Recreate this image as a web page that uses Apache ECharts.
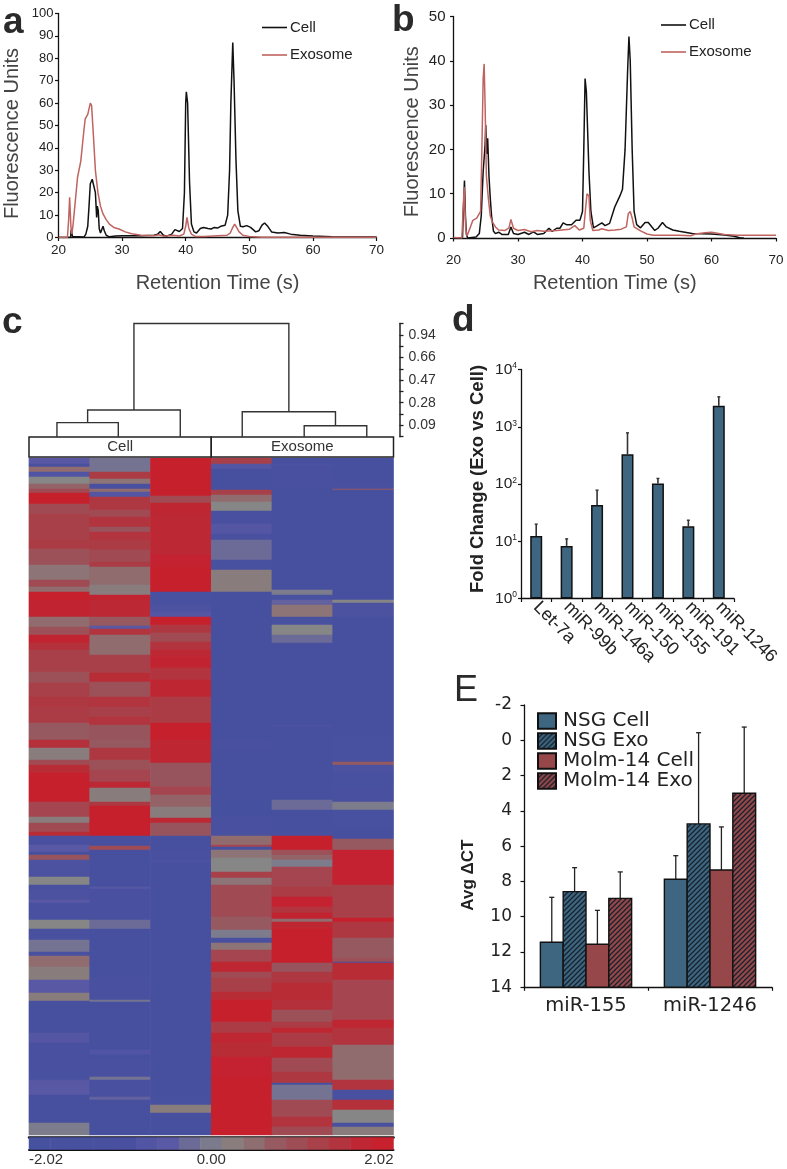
<!DOCTYPE html>
<html>
<head>
<meta charset="utf-8">
<style>html,body{margin:0;padding:0;background:#fff}#c{width:787px;height:1169px}</style>
<script src="https://cdn.jsdelivr.net/npm/echarts@6/dist/echarts.min.js"></script>
</head>
<body>
<div id="c"></div>
<script>
// ---------- Panel a ----------
const aCell = [[20,0],[21.9,0],[22,3.5],[22.2,0.5],[22.4,0],[24,0.2],[24.3,1.5],[24.6,5],[24.8,14],[25,24],[25.3,26],[25.6,26],[25.8,20],[26,9],[26.1,14],[26.25,12],[26.4,4],[26.6,2],[26.9,2],[27,5],[27.2,3],[27.5,1],[28,0.3],[29,0.7],[30,0.8],[31,0.8],[33,0.8],[35,1],[35.6,1.5],[36,2.7],[36.5,1],[37,0.6],[37.8,1.5],[38.3,3.5],[39,2.7],[39.5,4],[39.8,20],[40,60],[40.1,65],[40.3,60],[40.6,25],[40.9,6],[41.3,2.5],[41.7,2],[42.3,4],[42.8,4.5],[43.5,4],[44,3.8],[44.5,4.5],[45,4.2],[45.5,5],[46.2,5.5],[46.6,10],[46.9,30],[47.1,60],[47.4,87],[47.6,70],[47.9,35],[48.2,12],[48.6,5],[49,4.8],[49.6,5.3],[50.2,4.5],[51,2.5],[51.5,3],[52,5.5],[52.4,6.5],[52.9,5],[53.5,2.5],[54.5,2],[55.5,2.2],[56.5,1.5],[58,1],[60,0.7],[63,0.3],[70,0.2]];
const aExo = [[20,0],[21.4,0],[21.6,8],[21.75,18],[21.95,5],[22.1,1.5],[22.3,6],[22.6,15],[23,27],[23.5,34],[24,48],[24.2,53],[24.6,55],[25,60],[25.2,59],[25.5,45],[25.8,30],[26.2,20],[26.6,14],[27,10.5],[27.5,8],[28,6],[28.7,4.5],[29.5,3.8],[30.5,2.5],[31.5,1.7],[33,1],[35,0.8],[35.8,1.2],[36.5,0.6],[38,1],[39,0.7],[39.7,1.5],[40,5],[40.2,9],[40.5,4],[40.9,1.5],[41.5,0.5],[43,0.5],[45,0.8],[46.5,1],[47,2],[47.4,4.5],[47.7,6],[48,4.5],[48.4,2.5],[49,1],[50,0.5],[52,0.1],[70,0.1]];
// ---------- Panel b ----------
const bCell = [[20,0],[21.4,0.1],[21.5,5],[21.7,13],[21.85,5],[22,0.8],[22.2,0],[23.5,0.2],[24,1],[24.3,5],[24.6,15],[24.9,21],[25,25.5],[25.15,19],[25.3,22.5],[25.5,14],[25.7,9],[25.9,5],[26.2,1.5],[26.5,1],[27,1.3],[27.5,0.8],[28.5,0.8],[28.9,2.5],[29.3,1],[30,0.8],[31,1.3],[31.7,0.8],[32.4,1.4],[33,0.8],[34,1],[34.8,2.2],[35.3,1.5],[36,2.2],[36.5,2.2],[37,3.4],[37.5,3],[38.3,3],[39,4],[39.6,4],[40,6],[40.2,20],[40.4,36],[40.6,33],[41,15],[41.3,6],[41.7,2.3],[42.3,2.8],[43,3.4],[43.5,2.8],[44.2,3.3],[45,7],[45.8,9.5],[46.2,11],[46.6,20],[47,38],[47.2,45.5],[47.4,40],[47.7,20],[48,6],[48.4,3],[49,2.3],[49.7,3.5],[50.2,3.5],[51.2,1.7],[51.7,2.2],[52.4,3.5],[53,2.5],[54,1.8],[55,1.5],[57,1],[60,0.9],[62,0.7],[63.5,0.4],[64.5,0],[65,0]];
const bExo = [[20,0.1],[21.3,0],[21.45,5],[21.65,11.5],[21.9,2],[22.1,0.5],[22.5,2],[23,4],[23.6,4.5],[24.2,6],[24.4,20],[24.6,36],[24.75,39.3],[24.9,30],[25.1,14],[25.4,9],[25.7,5],[26,3.7],[26.5,2.5],[27,1.8],[28,1.7],[28.6,2.3],[28.9,4.2],[29.3,2.2],[30,1.7],[31,1.9],[32,1.4],[33,1.7],[34,1.5],[36,1.7],[38,2],[38.8,2.8],[39.5,1.8],[40.2,2.2],[40.5,7],[40.7,10],[41,9.5],[41.2,4],[41.6,1.7],[42.5,1.8],[43,2.1],[44,1.7],[45,1.8],[46,2],[46.8,2.5],[47.1,5.5],[47.4,6],[47.7,4.5],[48,2.5],[49,1.6],[50,0.9],[51,0.6],[55,0.6],[56.8,0.5],[57.5,0.9],[59,1.2],[60,1.3],[62,0.8],[64,0.6],[70,0.6]];

// ---------- Panel c: dendrogram ----------
const dendroTickLabels = {1:'0.09',3:'0.28',5:'0.47',7:'0.66',9:'0.94'};
const leaves = [-0.04,0.97,1.99,3.01,4.03,5.06];
const merges = [ // [left child, right child, height]  children: leaf index or 'n' + merge index
  [0,1,1.24],[4,5,0.97],['n0',2,2.36],[3,'n1',2.2],['n2','n3',10]
];
const columnGroups = [['Cell',0,3],['Exosome',3,6]];

// ---------- Panel c: heat stripes, three blocks per sample: [row end within block, value] ----------
const blockStart = [-473, 426, 1266];
const sampleA = [
 [[490,-.5],[500,-1],[515,.3],[530,-.8],[552,0],[565,.4],[578,.8],[610,2],[640,.8],[720,1],[745,1.1],[795,.7],[840,.2],[860,.8],[875,.3],[899,2]],
 [[50,1.8],[80,.3],[105,.7],[130,1.8],[150,1.4],[215,1],[250,.7],[290,1],[320,1.2],[370,1.1],[420,.5],[445,1.4],[480,.1],[495,.8],[520,1.5],[605,2],[650,.9],[670,.1],[695,.8],[708,1.5],[735,-1.4],[755,-.5],[765,-1.5],[780,.6],[830,-.9],[840,0]],
 [[15,0],[30,-1.3],[60,-.9],[70,-.5],[120,-1.3],[148,0],[180,-1.4],[215,-.2],[228,-1],[260,.3],[300,.1],[340,-.5],[362,.1],[460,-1.5],[490,-.7],[570,-1.3],[600,-1.1],[615,-.6],[645,-.5],[730,-1.5],[765,-.1]]
];
const sampleB = [
 [[515,-.2],[535,1.1],[552,.2],[565,-1],[575,.3],[590,-.7],[630,1.2],[650,.8],[680,1.3],[695,.6],[720,1.3],[750,1.1],[785,.8],[800,1.1],[855,.3],[885,.1],[899,1.8]],
 [[50,1.6],[78,.5],[88,-.5],[105,1.3],[165,.3],[220,1],[245,1.5],[290,.7],[320,1.3],[350,1],[375,1.3],[420,.6],[445,.5],[480,1.2],[510,.7],[545,.9],[565,1.6],[605,.1],[618,1.2],[708,2],[720,-1],[738,-1.6],[750,.8],[840,-1.6]],
 [[20,-1.5],[28,-.6],[120,-1.4],[148,-.3],[290,-1.5],[360,-1.3],[365,-.2],[510,-1.6],[525,-.8],[540,-1.5],[590,-1],[600,-.2],[650,-1.4],[660,-.4],[765,-1.6]]
];
const sampleC = [
 [[588,2],[608,.8],[640,1.7],[700,1.6],[765,1.6],[800,1.9],[875,2],[899,-1.1]],
 [[15,-1.2],[35,-.9],[50,-.7],[75,2],[100,1.2],[125,.8],[150,1.3],[170,1.6],[205,1.8],[240,1.3],[290,1.7],[370,1.1],[420,2],[490,1.7],[560,.6],[585,.9],[620,.4],[655,.1],[670,1.6],[708,.6],[750,-1.5],[770,-1],[780,-1.7],[790,-.9],[840,-1.6]],
 [[500,-1.7],[610,-1.6],[650,-1.5],[675,-1.1],[700,.1],[765,-1.5]]
];
const sampleD = [
 [[490,1],[505,-.7],[570,-1.6],[583,1],[605,.3],[632,0],[670,-1],[700,-.7],[718,-1],[780,-.3],[810,-1.2],[875,.1],[899,-1.6]],
 [[150,-1.7],[420,-1.5],[450,-1],[600,-1.5],[650,-1.8],[708,-1.3],[735,.3],[740,.9],[750,-1.7],[775,.2],[815,0],[835,1],[840,.2]],
 [[15,.2],[110,.8],[150,.5],[175,-.1],[190,-1],[210,.2],[245,.9],[275,1.7],[295,.8],[335,1],[360,1.5],[425,2],[460,1.1],[490,1.7],[530,1.5],[590,1.9],[765,2]]
];
const sampleE = [
 [[490,-1.7],[498,-.9],[560,-1.3],[870,-1.6],[885,-.1],[899,-1.2]],
 [[15,-.4],[50,.2],[75,-1.2],[105,0],[128,-.3],[375,-1.5],[382,-.9],[600,-1.6],[630,-.3],[695,-1.5],[708,-1],[750,2],[765,.7],[780,.4],[800,-.1],[840,.9]],
 [[20,.9],[50,1.1],[80,1.9],[100,1.3],[118,1.8],[125,.3],[148,1.7],[248,2],[275,.6],[310,1.2],[360,1.5],[390,1.4],[425,.7],[445,1.1],[460,1.7],[500,1.1],[535,1.7],[575,.8],[608,1.2],[615,-1.2],[660,-.2],[710,.8],[740,1.3],[765,.8]]
];
const sampleF = [
 [[545,-1.6],[565,-1],[570,.6],[899,-1.7]],
 [[10,0],[50,-.9],[300,-1.7],[410,-1.5],[485,-1.2],[495,.5],[520,-.9],[560,-1.2],[605,-1],[630,-.1],[680,-1.2],[718,-1.6],[750,.5],[840,1.9]],
 [[15,1.9],[115,1],[125,2],[175,1.2],[235,.5],[245,.7],[250,-1.2],[300,1.5],[420,.9],[445,1.7],[495,1.3],[600,.3],[630,1.3],[660,-1],[690,1.4],[730,0],[740,-1],[765,.1]]
];
const samples = [sampleA,sampleB,sampleC,sampleD,sampleE,sampleF];
const heatRowCount = 677;
const colorbarValues = [-2,-1.75,-1.5,-1.25,-1,-.75,-.5,-.3,-.12,.1,.28,.5,.75,1,1.3,1.7,2];
const heatColors = ['#46529f','#47519f','#4a50a0','#5a59a5','#868686','#965a60','#a8404a','#b92b36','#c8212e'];

// ---------- Panel d ----------
const dCats = ['Let-7a','miR-99b','miR-146a','miR-150','miR-155','miR-191','miR-1246'];
const dFold = [12.3,8.3,43,331,102,18.3,2320];
const dErrTop = [19.9,11,78,783,125,23.3,3330];

// ---------- Panel E ----------
const eCats = ['miR-155','miR-1246'];
const eNames = ['NSG Cell','NSG Exo','Molm-14 Cell','Molm-14 Exo'];
const eValues = [[11.45,7.88],[8.58,4.74],[11.56,7.35],[8.96,3.0]];
const eErrTop = [[8.9,6.54],[7.22,-0.43],[9.64,4.91],[7.46,-0.75]];

// ---------- helpers ----------
const BLK='#111', CELL='#111111', EXO='#bf6460', SANS='"Liberation Sans",Arial,sans-serif', WIDE='"DejaVu Sans",sans-serif';
const BLUE='#3e6681', RED='#96474a';
function hatch(bg){
  const s=5, c=document.createElement('canvas'); c.width=s; c.height=s;
  const x=c.getContext('2d'); x.fillStyle=bg; x.fillRect(0,0,s,s);
  x.strokeStyle='#16222c'; x.lineWidth=1.25;
  x.beginPath(); x.moveTo(-1,1); x.lineTo(1,-1); x.moveTo(-1,s+1); x.lineTo(s+1,-1); x.moveTo(s-1,s+1); x.lineTo(s+1,s-1); x.stroke();
  return {image:c,repeat:'repeat'};
}
const eFills=[BLUE,hatch(BLUE),RED,hatch(RED)];

function expand(sample){ // stripes -> one value per row
  const stripes=[];
  sample.forEach((block,b)=>{block.forEach(p=>stripes.push([p[0]+blockStart[b],p[1]]));});
  const out=[];let i=0;
  for(let r=0;r<heatRowCount;r++){
    const u=r*3+1.5;
    while(i<stripes.length-1&&stripes[i][0]<u)i++;
    out.push(stripes[i][1]);
  }
  return out;
}
const heatData=[];
samples.forEach((s,col)=>{expand(s).forEach((v,r)=>heatData.push([col,r,v]));});
const cbData=colorbarValues.map((v,i)=>[i,0,v]);
const rowCats=Array.from({length:heatRowCount},(_,i)=>i);

function dendroData(){
  const nodes=[];
  const pos=k=>typeof k==='number'?[leaves[k],0]:nodes[+k.slice(1)];
  return merges.map(m=>{
    const a=pos(m[0]),b=pos(m[1]);
    nodes.push([(a[0]+b[0])/2,m[2]]);
    return [a[0],a[1],b[0],b[1],m[2]];
  });
}

const axisBase=(o)=>Object.assign({
  axisLine:{show:true,onZero:false,lineStyle:{color:BLK,width:1.3}},
  axisTick:{show:true,length:3.5,lineStyle:{color:BLK,width:1.2}},
  splitLine:{show:false}
},o);

function chromaX(gi,gap,margin){return axisBase({gridIndex:gi,type:'value',min:20,max:70,interval:10,
  axisLabel:{fontFamily:SANS,fontSize:13.5,color:'#222',margin:margin},
  name:'Retention Time (s)',nameLocation:'middle',nameGap:gap,
  nameTextStyle:{fontFamily:SANS,fontSize:20,color:'#444'}});}
function chromaY(gi,max,step,gap,pad,fs,margin){return axisBase({gridIndex:gi,type:'value',min:0,max:max,interval:step,
  axisLabel:{fontFamily:SANS,fontSize:fs,color:'#222',margin:margin},
  name:'Fluorescence Units',nameLocation:'middle',nameGap:gap,
  nameTextStyle:{fontFamily:SANS,fontSize:20,color:'#444',padding:[0,pad,0,0]}});}
function lineS(name,color,xi,data){return {type:'line',name:name,xAxisIndex:xi,yAxisIndex:xi,data:data,showSymbol:false,symbol:'none',
  lineStyle:{color:color,width:1.5},itemStyle:{color:color},silent:true,z:name==='Exosome'?3:2};}
function legendAt(left,top,gap){return {show:true,data:['Cell','Exosome'],left:left,top:top,padding:0,orient:'vertical',icon:'rect',itemWidth:25,itemHeight:1.6,itemGap:gap,
  selectedMode:false,textStyle:{fontFamily:SANS,fontSize:15,color:'#222',padding:[0,0,0,-2]}};}

const grids=[
 {left:58.5,top:13.5,width:318,height:224},            //0 a
 {left:453.5,top:16.5,width:322.5,height:221.5},       //1 b
 {left:29,top:323.5,width:364.5,height:113.2},         //2 dendro
 {left:29,top:437,width:364.5,height:20},              //3 header
 {left:29,top:458,width:364.5,height:677},             //4 heat
 {left:29,top:1137.5,width:364.5,height:12},           //5 colorbar
 {left:521,top:369.5,width:213,height:229},            //6 d
 {left:524,top:705,width:248,height:282.3}             //7 E
];

const option={
 animation:false,
 backgroundColor:'#fff',
 grid:grids,
 legend:[
  legendAt(262,20,12.5),
  legendAt(661,17.5,12),
  {show:true,data:eNames,left:537,top:711,padding:0,orient:'vertical',icon:'rect',itemWidth:18,itemHeight:15.5,itemGap:0,selectedMode:false,
   textStyle:{fontFamily:WIDE,fontSize:20,color:'#222',padding:[0,0,0,2]}}
 ],
 visualMap:[{type:'continuous',show:false,seriesIndex:[4,5],min:-2.02,max:2.02,inRange:{color:heatColors},calculable:false}],
 xAxis:[
  chromaX(0,36,6),
  chromaX(1,35,15),
  {gridIndex:2,type:'value',min:-0.5,max:5.5,show:false},
  {gridIndex:3,type:'value',min:-0.5,max:5.5,show:false},
  {gridIndex:4,type:'category',data:[0,1,2,3,4,5],show:false},
  {gridIndex:5,type:'category',data:colorbarValues.map((v,i)=>i),position:'top',axisLabel:{show:false},axisTick:{show:false},
   axisLine:{show:true,lineStyle:{color:'#111',width:2.5}}},
  {gridIndex:5,type:'value',min:-2.02,max:2.02,interval:2.02,position:'bottom',
   axisLine:{show:true,onZero:false,lineStyle:{color:'#111',width:2}},axisTick:{show:false},splitLine:{show:false},
   axisLabel:{fontFamily:SANS,fontSize:15,color:'#333',margin:3,alignMinLabel:'left',alignMaxLabel:'right',formatter:v=>v.toFixed(2)}},
  axisBase({gridIndex:6,type:'category',data:dCats,
    axisLabel:{interval:0,rotate:-45,fontFamily:SANS,fontSize:18,color:'#222',margin:6}}),
  axisBase({gridIndex:7,type:'category',data:eCats,
    axisLabel:{interval:0,fontFamily:WIDE,fontSize:19.5,color:'#222',margin:9}})
 ],
 yAxis:[
  chromaY(0,100,10,36,16,13,5),
  chromaY(1,50,10,31,9,15,8),
  axisBase({gridIndex:2,type:'value',min:0,max:10,interval:1,position:'right',offset:6,
    axisLine:{show:true,onZero:false,lineStyle:{color:'#222',width:1.5}},axisTick:{show:true,length:4,lineStyle:{color:'#222',width:1.3}},
    axisLabel:{fontFamily:SANS,fontSize:14,color:'#333',margin:9,interval:0,formatter:v=>dendroTickLabels[v]||''}}),
  {gridIndex:3,type:'value',min:0,max:1,show:false},
  {gridIndex:4,type:'category',data:rowCats,inverse:true,show:false},
  {gridIndex:5,type:'category',data:['c'],show:false},
  axisBase({gridIndex:6,type:'log',logBase:10,min:1,max:10000,
    axisTick:{show:true,length:3,lineStyle:{color:BLK,width:1.2}},
    axisLabel:{fontFamily:SANS,fontSize:15,color:'#222',margin:4,
      formatter:v=>'{b|10}{s|'+Math.round(Math.log10(v))+'}',
      rich:{b:{fontFamily:SANS,fontSize:15.5,color:'#222'},s:{fontFamily:SANS,fontSize:8.5,color:'#222',verticalAlign:'top',padding:[0,0,6,0]}}},
    name:'Fold Change (Exo vs Cell)',nameLocation:'middle',nameGap:34,
    nameTextStyle:{fontFamily:SANS,fontSize:18.5,fontWeight:'bold',color:'#222',padding:[0,0,0,10]}}),
  axisBase({gridIndex:7,type:'value',min:-2,max:14,interval:2,inverse:true,
    axisLabel:{fontFamily:WIDE,fontSize:17,color:'#222',margin:12},
    name:'Avg ΔCT',nameLocation:'middle',nameGap:47,
    nameTextStyle:{fontFamily:SANS,fontSize:17,fontWeight:'bold',color:'#222',padding:[0,58,0,0]}})
 ],
 series:[
  lineS('Cell',CELL,0,aCell),
  lineS('Exosome',EXO,0,aExo),
  lineS('Cell',CELL,1,bCell),
  lineS('Exosome',EXO,1,bExo),
  {type:'heatmap',xAxisIndex:4,yAxisIndex:4,data:heatData,progressive:0,silent:true,itemStyle:{borderWidth:0}},
  {type:'heatmap',xAxisIndex:5,yAxisIndex:5,data:cbData,progressive:0,silent:true,z:1},
  {type:'custom',xAxisIndex:2,yAxisIndex:2,data:dendroData(),silent:true,clip:false,
   renderItem:(p,api)=>{
     const a=api.coord([api.value(0),api.value(1)]),b=api.coord([api.value(2),api.value(3)]);
     const h=api.value(4), ta=api.coord([api.value(0),h]), tb=api.coord([api.value(2),h]);
     return {type:'polyline',shape:{points:[a,ta,tb,b]},style:{stroke:'#333',lineWidth:1.4,fill:'none'}};
   }},
  {type:'custom',xAxisIndex:3,yAxisIndex:3,data:columnGroups.map(g=>[g[1],g[2],g[0]]),silent:true,clip:false,
   renderItem:(p,api)=>{
     const a=api.coord([api.value(0)-0.5,1]),b=api.coord([api.value(1)-0.5,0]);
     const name=columnGroups[p.dataIndex][0];
     return {type:'group',children:[
       {type:'rect',shape:{x:a[0],y:a[1],width:b[0]-a[0],height:b[1]-a[1]},style:{fill:'#fff',stroke:'#222',lineWidth:1.5}},
       {type:'text',style:{text:name,x:(a[0]+b[0])/2,y:(a[1]+b[1])/2,align:'center',verticalAlign:'middle',fill:'#333',font:'15px '+SANS}}
     ]};
   }},
  {type:'bar',xAxisIndex:7,yAxisIndex:6,data:dFold,barWidth:12,silent:true,
   itemStyle:{color:BLUE,borderColor:'#111',borderWidth:1.5}},
  {type:'custom',xAxisIndex:7,yAxisIndex:6,data:dCats.map((c,i)=>[i,dFold[i],dErrTop[i]]),silent:true,
   renderItem:(p,api)=>{
     const a=api.coord([api.value(0),api.value(1)]),b=api.coord([api.value(0),api.value(2)]);
     return {type:'group',children:[
       {type:'line',shape:{x1:a[0],y1:a[1],x2:b[0],y2:b[1]},style:{stroke:'#333',lineWidth:1.6}},
       {type:'line',shape:{x1:b[0]-1.5,y1:b[1],x2:b[0]+1.5,y2:b[1]},style:{stroke:'#333',lineWidth:1.4}}
     ]};
   }}
 ].concat(eNames.map((n,si)=>({
   type:'custom',name:n,xAxisIndex:8,yAxisIndex:7,silent:true,clip:false,z:3,
   itemStyle:{color:eFills[si],borderColor:'#111',borderWidth:1.5},
   data:eCats.map((c,ci)=>[ci,eValues[si][ci],eErrTop[si][ci]]),
   renderItem:(p,api)=>{
     const base=api.coord([api.value(0),14]),top=api.coord([api.value(0),api.value(1)]),err=api.coord([api.value(0),api.value(2)]);
     const w=api.size([1,0])[0]*0.184, x=base[0]+(si-2)*w, cx=x+w/2;
     return {type:'group',children:[
       {type:'line',shape:{x1:cx,y1:top[1],x2:cx,y2:err[1]},style:{stroke:'#222',lineWidth:1.3}},
       {type:'line',shape:{x1:cx-2.5,y1:err[1],x2:cx+2.5,y2:err[1]},style:{stroke:'#222',lineWidth:1.3}},
       {type:'rect',shape:{x:x,y:top[1],width:w,height:base[1]-top[1]},style:{fill:eFills[si],stroke:'#111',lineWidth:1.4}}
     ]};
   }
 }))),
 graphic:[
  {type:'text',left:3,top:4,style:{text:'a',fill:'#2a2a2a',font:'bold 37px '+SANS}},
  {type:'text',left:392,top:2,style:{text:'b',fill:'#2a2a2a',font:'bold 37px '+SANS}},
  {type:'text',left:2,top:304,style:{text:'c',fill:'#2a2a2a',font:'bold 37px '+SANS}},
  {type:'text',left:452,top:302,style:{text:'d',fill:'#2a2a2a',font:'bold 37px '+SANS}},
  {type:'text',left:454,top:673,style:{text:'E',fill:'#2a2a2a',font:'36px '+SANS}}
 ]
};
const chart=echarts.init(document.getElementById('c'),null,{renderer:'canvas'});
chart.setOption(option);
</script>
</body>
</html>
